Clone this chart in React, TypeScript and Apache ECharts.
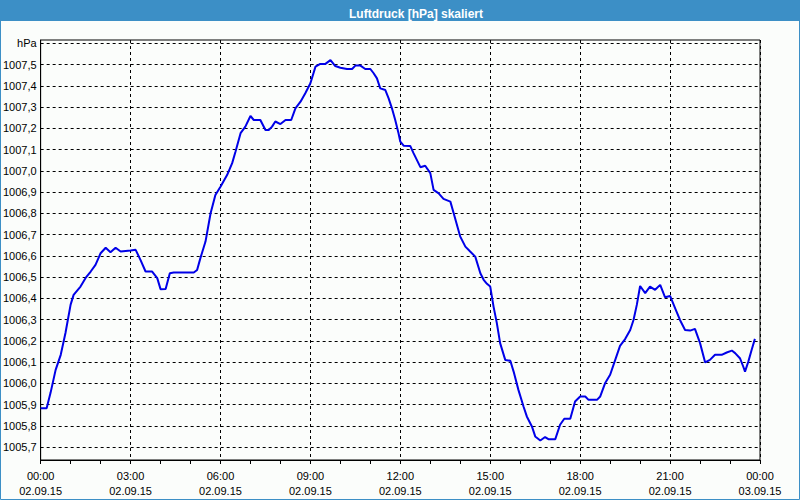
import React, { useEffect, useRef } from "react";
import * as echarts from "echarts";

// Time in hours since 02.09.15 00:00
const hours: number[] = [
  0.0, 0.2, 0.33, 0.5, 0.67, 0.83, 1.0, 1.1, 1.33, 1.5, 1.67, 1.83, 2.0, 2.17, 2.33, 2.5, 2.67,
  3.0, 3.17, 3.33, 3.5, 3.72, 3.89, 4.0, 4.17, 4.31, 4.44, 5.11, 5.22, 5.33, 5.5, 5.67, 5.83,
  6.0, 6.22, 6.39, 6.5, 6.67, 6.83, 7.0, 7.11, 7.33, 7.5, 7.61, 7.72, 7.83, 8.0, 8.17, 8.36,
  8.5, 8.67, 8.83, 9.0, 9.17, 9.33, 9.5, 9.67, 9.83, 10.0, 10.22, 10.39, 10.5, 10.67, 10.83,
  11.0, 11.11, 11.22, 11.33, 11.5, 11.61, 11.72, 11.83, 11.94, 12.0, 12.11, 12.33, 12.44,
  12.67, 12.83, 13.0, 13.11, 13.28, 13.44, 13.67, 13.78, 14.0, 14.17, 14.33, 14.5, 14.67,
  14.78, 14.89, 15.0, 15.11, 15.22, 15.33, 15.5, 15.67, 15.78, 15.94, 16.11, 16.22, 16.39,
  16.5, 16.67, 16.83, 16.94, 17.17, 17.33, 17.47, 17.67, 17.83, 18.0, 18.17, 18.28, 18.56,
  18.67, 18.83, 19.0, 19.17, 19.33, 19.5, 19.67, 19.78, 19.89, 20.0, 20.17, 20.33, 20.5,
  20.67, 20.83, 21.0, 21.17, 21.33, 21.5, 21.67, 21.83, 22.0, 22.17, 22.33, 22.5, 22.72,
  22.89, 23.06, 23.17, 23.33, 23.44, 23.5, 23.61, 23.72, 23.83,
];

const pressure: number[] = [
  1005.883, 1005.883, 1005.955, 1006.063, 1006.134, 1006.238, 1006.37, 1006.416, 1006.455,
  1006.496, 1006.526, 1006.557, 1006.612, 1006.638, 1006.617, 1006.638, 1006.62,
  1006.625, 1006.628, 1006.581, 1006.526, 1006.526, 1006.495, 1006.443, 1006.444, 1006.518,
  1006.521, 1006.521, 1006.533, 1006.589, 1006.667, 1006.8, 1006.886,
  1006.925, 1006.98, 1007.036, 1007.09, 1007.177, 1007.208, 1007.258, 1007.239, 1007.239,
  1007.192, 1007.192, 1007.208, 1007.232, 1007.22, 1007.239, 1007.239,
  1007.294, 1007.325, 1007.365, 1007.412, 1007.49, 1007.503, 1007.503, 1007.521, 1007.493,
  1007.485, 1007.479, 1007.479, 1007.495, 1007.495, 1007.479,
  1007.479, 1007.459, 1007.435, 1007.388, 1007.38, 1007.341, 1007.294, 1007.239, 1007.177,
  1007.137, 1007.118, 1007.117, 1007.083,
  1007.017, 1007.024, 1006.989, 1006.91, 1006.894, 1006.868, 1006.855, 1006.8, 1006.69,
  1006.643, 1006.62, 1006.596, 1006.518,
  1006.487, 1006.468, 1006.455, 1006.361, 1006.283, 1006.189, 1006.11, 1006.106, 1006.055,
  1005.969, 1005.891, 1005.844, 1005.797,
  1005.75, 1005.731, 1005.747, 1005.737, 1005.737, 1005.805, 1005.833, 1005.833, 1005.914,
  1005.938, 1005.938, 1005.922, 1005.922,
  1005.938, 1006.0, 1006.04, 1006.11, 1006.176, 1006.208, 1006.251, 1006.298, 1006.369,
  1006.458, 1006.424, 1006.455, 1006.44,
  1006.463, 1006.405, 1006.411, 1006.353, 1006.298, 1006.251, 1006.248, 1006.256, 1006.189,
  1006.098, 1006.11, 1006.134, 1006.134,
  1006.145, 1006.154, 1006.142, 1006.118, 1006.079, 1006.055, 1006.102, 1006.157, 1006.209,
];

const yTicks: number[] = [
  1005.7, 1005.8, 1005.9, 1006.0, 1006.1, 1006.2, 1006.3, 1006.4, 1006.5, 1006.6, 1006.7,
  1006.8, 1006.9, 1007.0, 1007.1, 1007.2, 1007.3, 1007.4, 1007.5, 1007.6,
];
const yUnitLabel = "hPa";

const xTickTimes: string[] = ["00:00", "03:00", "06:00", "09:00", "12:00", "15:00", "18:00", "21:00", "00:00"];
const xTickDates: string[] = [
  "02.09.15", "02.09.15", "02.09.15", "02.09.15", "02.09.15", "02.09.15", "02.09.15", "02.09.15", "03.09.15",
];

const titleText = "Luftdruck [hPa] skaliert";

const FONT = "Liberation Sans";

export default function App() {
  const ref = useRef<HTMLDivElement>(null);

  useEffect(() => {
    if (!ref.current) return;
    const chart = echarts.init(ref.current, undefined, { renderer: "svg" });
    const seriesData = hours.map((h, i) => [h, pressure[i]]);
    chart.setOption({
      animation: false,
      backgroundColor: "#fbfdfb",
      textStyle: { fontFamily: FONT },
      title: {
        text: titleText,
        left: 411,
        top: 3,
        textAlign: "center",
        textStyle: { color: "#ffffff", fontSize: 12, fontWeight: "bold", fontFamily: FONT },
      },
      graphic: [
        {
          type: "rect",
          z: -1,
          shape: { x: 0, y: 0, width: 800, height: 21 },
          style: { fill: "#3c8fc6" },
          silent: true,
        },
        {
          type: "rect",
          z: -1,
          shape: { x: 0.5, y: 0.5, width: 799, height: 499 },
          style: { fill: "none", stroke: "#3c8fc6", lineWidth: 1 },
          silent: true,
        },
      ],
      grid: {
        left: 40,
        right: 40,
        top: 40,
        bottom: 40,
        show: true,
        borderColor: "#000",
        borderWidth: 1,
        backgroundColor: "transparent",
      },
      xAxis: {
        type: "value",
        min: 0,
        max: 24,
        interval: 3,
        axisLine: { show: true, lineStyle: { color: "#000", width: 1 } },
        axisTick: { show: true, length: 4, lineStyle: { color: "#000" } },
        minorTick: { show: true, splitNumber: 3, length: 4, lineStyle: { color: "#000" } },
        splitLine: { show: true, lineStyle: { color: "#000", type: [3, 3], width: 1 } },
        axisLabel: {
          color: "#000",
          fontSize: 11,
          fontFamily: FONT,
          margin: 8,
          lineHeight: 15,
          formatter: (v: number) => {
            const i = Math.round(v / 3);
            return xTickTimes[i] + "\n" + xTickDates[i];
          },
        },
      },
      yAxis: {
        type: "value",
        min: 1005.639,
        max: 1007.6155,
        axisLine: { show: true, lineStyle: { color: "#000", width: 1 } },
        axisTick: { show: false },
        splitLine: { show: false },
        axisLabel: {
          customValues: yTicks,
          color: "#000",
          fontSize: 11,
          fontFamily: FONT,
          margin: 4,
          formatter: (v: number) =>
            Math.abs(v - yTicks[yTicks.length - 1]) < 1e-6 ? yUnitLabel : v.toFixed(1).replace(".", ","),
        },
      },
      series: [
        {
          type: "line",
          data: seriesData,
          z: 3,
          showSymbol: false,
          symbol: "none",
          lineStyle: { color: "#0000e8", width: 2 },
          emphasis: { disabled: true },
          markLine: {
            z: 1,
            silent: true,
            symbol: ["none", "none"],
            label: { show: false },
            lineStyle: { color: "#000", type: [3, 3], width: 1 },
            emphasis: { disabled: true },
            data: yTicks.map((v) => ({ yAxis: v })),
          },
        },
      ],
    });
    return () => chart.dispose();
  }, []);

  return (
    <div
      ref={ref}
      style={{ position: "absolute", left: 0, top: 0, width: 800, height: 500 }}
    />
  );
}
